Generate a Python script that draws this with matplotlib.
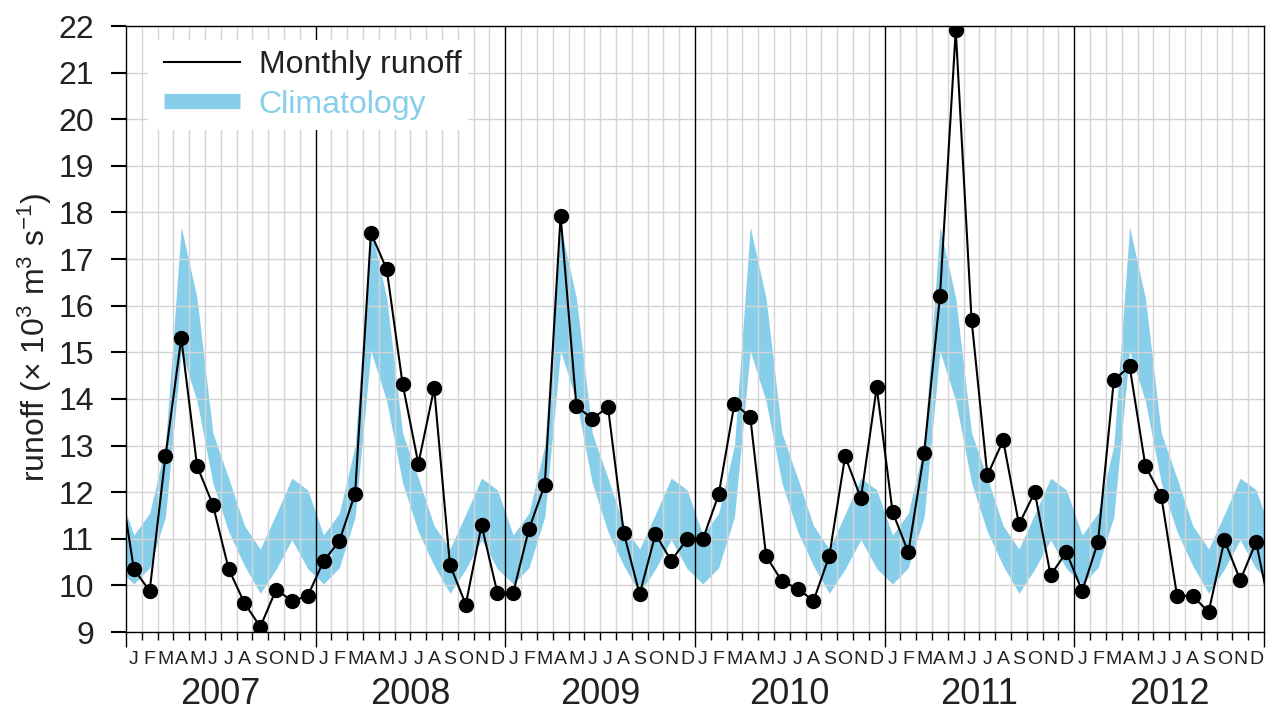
import numpy as np
import matplotlib
matplotlib.use("Agg")
import matplotlib.pyplot as plt
from matplotlib.lines import Line2D
from matplotlib.patches import Rectangle
from matplotlib.ticker import MultipleLocator

plt.rcParams['font.family'] = ['Liberation Sans', 'DejaVu Sans']
plt.rcParams['mathtext.fontset'] = 'custom'
plt.rcParams['mathtext.rm'] = 'Liberation Sans'
plt.rcParams['mathtext.it'] = 'Liberation Sans:italic'
plt.rcParams['mathtext.default'] = 'regular'

years = [2007, 2008, 2009, 2010, 2011, 2012]
months = ['J', 'F', 'M', 'A', 'M', 'J', 'J', 'A', 'S', 'O', 'N', 'D']

# monthly runoff, 10^3 m^3 s^-1
runoff_2007 = [10.35, 9.88, 12.77, 15.30, 12.56, 11.73, 10.35, 9.62, 9.11, 9.91, 9.67, 9.77]
runoff_2008 = [10.52, 10.95, 11.97, 17.56, 16.78, 14.33, 12.61, 14.23, 10.44, 9.59, 11.29, 9.84]
runoff_2009 = [9.84, 11.21, 12.16, 17.93, 13.84, 13.58, 13.82, 11.12, 9.81, 11.10, 10.53, 10.99]
runoff_2010 = [10.99, 11.95, 13.90, 13.61, 10.63, 10.09, 9.93, 9.67, 10.63, 12.77, 11.87, 14.25]
runoff_2011 = [11.58, 10.71, 12.84, 16.20, 21.91, 15.70, 12.36, 13.11, 11.31, 12.00, 10.22, 10.71]
runoff_2012 = [9.88, 10.93, 14.40, 14.70, 12.56, 11.92, 9.78, 9.77, 9.43, 10.97, 10.11, 10.93]
runoff_dec_2006 = 12.54
runoff_jan_2013 = 9.29

# climatological range per calendar month
clim_upper = [11.08, 11.55, 13.00, 17.69, 16.16, 13.27, 12.30, 11.28, 10.78, 11.53, 12.30, 12.05]
clim_lower = [10.03, 10.38, 11.47, 15.03, 13.95, 12.20, 11.15, 10.42, 9.83, 10.35, 10.98, 10.36]

n_years = len(years)
runoff = np.concatenate([[runoff_dec_2006], runoff_2007, runoff_2008, runoff_2009,
                         runoff_2010, runoff_2011, runoff_2012, [runoff_jan_2013]])
x = np.arange(-1, 12 * n_years + 1) + 0.5

upper = np.concatenate([[clim_upper[-1]], np.tile(clim_upper, n_years), [clim_upper[0]]])
lower = np.concatenate([[clim_lower[-1]], np.tile(clim_lower, n_years), [clim_lower[0]]])

fig = plt.figure(figsize=(12.67, 7.13), dpi=100)
ax = fig.add_axes([0.0994, 0.1136, 0.8982, 0.8499])

ax.fill_between(x, lower, upper, color='skyblue', lw=0, zorder=0.2)
ax.plot(x, runoff, '-o', color='black', lw=1.5, ms=10, zorder=3)

for k in range(1, n_years):
    ax.axvline(12 * k, color='black', lw=1.0, zorder=1.2)

ax.set_xlim(0, 12 * n_years)
ax.set_ylim(9, 22)
ax.xaxis.set_major_locator(MultipleLocator(12))
ax.xaxis.set_minor_locator(MultipleLocator(1))
ax.yaxis.set_major_locator(MultipleLocator(1))
ax.set_axisbelow(True)
ax.grid(which='minor', axis='x', color='#d4d4d4', lw=1.0)
ax.grid(which='major', axis='y', color='#d4d4d4', lw=1.0)

ax.tick_params(axis='x', which='both', labelbottom=False, direction='out', width=1.0, color='black')
ax.tick_params(axis='x', which='major', length=11)
ax.tick_params(axis='x', which='minor', length=5.5)
ax.tick_params(axis='y', which='major', length=11, width=1.5, labelsize=23, pad=12,
               labelcolor='#222222')
for s in ax.spines.values():
    s.set_linewidth(1.0)
    s.set_color('black')

for i in range(12 * n_years):
    ax.annotate(months[i % 12], xy=(i + 0.5, 0), xycoords=('data', 'axes fraction'),
                xytext=(0, -20), textcoords='offset points', ha='center', va='center',
                fontsize=14, color='#222222')
for k, yr in enumerate(years):
    ax.annotate(str(yr), xy=(12 * k + 6, 0), xycoords=('data', 'axes fraction'),
                xytext=(0, -45), textcoords='offset points', ha='center', va='center',
                fontsize=26, color='#222222')

fig.text(35 / 1267, 1 - 337 / 713, r'runoff ($\times$ 10$^{3}$ m$^{3}$ s$^{-1}$)',
         rotation=90, ha='center', va='center', fontsize=23, color='#222222')

# white panel behind the legend hides grid and year line
ax.add_patch(Rectangle((22 / 1138, 1 - 104 / 606), 320 / 1138, 90 / 606,
                       transform=ax.transAxes, facecolor='white', edgecolor='none',
                       zorder=2))
handles = [Line2D([0], [0], color='black', lw=1.5),
           Line2D([0], [0], color='skyblue', lw=11, solid_capstyle='butt')]
leg = ax.legend(handles, ['Monthly runoff', 'Climatology'], loc='upper left',
                bbox_to_anchor=(38 / 1138, 1 - 24 / 606), fontsize=23, frameon=False,
                handlelength=2.37, handletextpad=0.6, labelspacing=0.3,
                borderaxespad=0, borderpad=0)
leg.set_zorder(5)
leg.get_texts()[0].set_color('#222222')
leg.get_texts()[1].set_color('skyblue')

fig.savefig('out.png', dpi=100)
